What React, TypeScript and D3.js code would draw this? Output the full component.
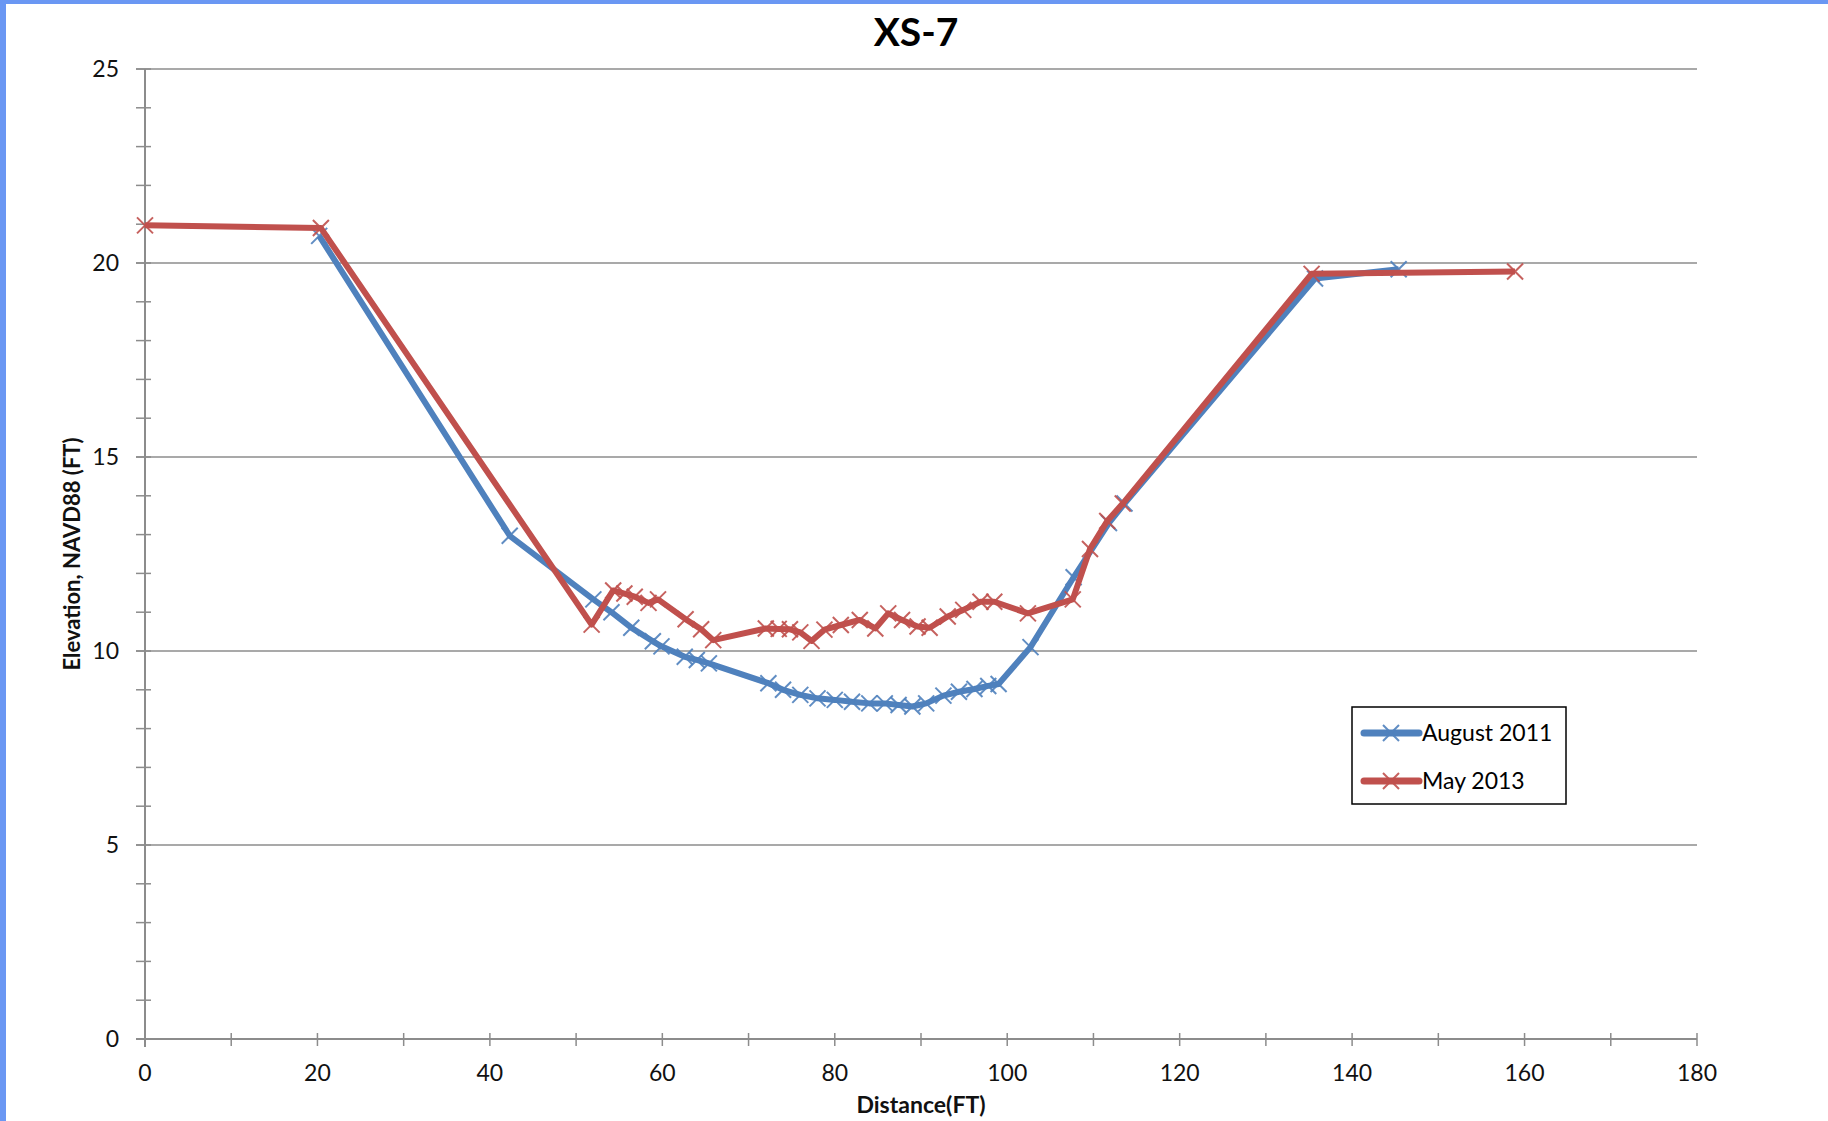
import React from "react";
import * as d3 from "d3";

// Cross-section XS-7 survey profiles
const aug2011Dist = [20.2, 42.3, 52.0, 54.1, 56.4, 58.9, 59.9, 62.6, 64.0, 65.4, 72.3, 74.0, 76.0, 78.0, 80.0, 82.0, 84.0, 85.8, 87.4, 89.0, 90.6, 92.6, 94.4, 96.2, 97.8, 99.0, 102.7, 107.7, 111.8, 113.6, 135.7, 145.4];
const aug2011Elev = [20.7, 12.97, 11.33, 11.0, 10.6, 10.25, 10.12, 9.85, 9.77, 9.68, 9.17, 9.0, 8.87, 8.78, 8.74, 8.69, 8.65, 8.65, 8.61, 8.57, 8.65, 8.85, 8.95, 9.02, 9.1, 9.15, 10.1, 11.9, 13.3, 13.8, 19.6, 19.84];

const may2013Dist = [0, 20.4, 51.8, 54.3, 55.6, 56.8, 58.4, 59.5, 62.7, 64.5, 65.9, 72.0, 73.5, 74.8, 76.0, 77.3, 78.8, 80.7, 82.9, 84.7, 86.2, 87.8, 89.6, 91.0, 93.1, 94.9, 96.9, 98.5, 102.4, 107.6, 109.6, 111.6, 113.4, 135.3, 158.9];
const may2013Elev = [20.97, 20.9, 10.68, 11.56, 11.48, 11.4, 11.24, 11.33, 10.82, 10.56, 10.28, 10.58, 10.57, 10.56, 10.48, 10.26, 10.55, 10.67, 10.8, 10.58, 10.97, 10.8, 10.63, 10.6, 10.89, 11.06, 11.27, 11.27, 10.97, 11.33, 12.63, 13.35, 13.8, 19.72, 19.78];

const seriesNames = ["August 2011", "May 2013"];
const seriesColors = ["#4F81BD", "#C0504D"];

const xTicks = [0, 20, 40, 60, 80, 100, 120, 140, 160, 180];
const xMinorTicks = d3.range(0, 181, 10);
const yTicks = [0, 5, 10, 15, 20, 25];
const yMinorTicks = d3.range(0, 26, 1);

const W = 1828;
const H = 1121;
const left = 145;
const right = 1697;
const top = 69;
const bottom = 1039;
const font = "Lato, 'Open Sans', sans-serif";

function Cross({ x, y, color, s = 8 }: { x: number; y: number; color: string; s?: number }) {
  return (
    <path
      d={`M${x - s},${y - s}L${x + s},${y + s}M${x - s},${y + s}L${x + s},${y - s}`}
      stroke={color}
      strokeWidth={2}
      fill="none"
      opacity={0.9}
    />
  );
}

export default function App() {
  const x = d3.scaleLinear().domain([0, 180]).range([left, right]);
  const y = d3.scaleLinear().domain([0, 25]).range([bottom, top]);

  const series = [
    { name: seriesNames[0], color: seriesColors[0], pts: aug2011Dist.map((d, i) => [d, aug2011Elev[i]] as [number, number]) },
    { name: seriesNames[1], color: seriesColors[1], pts: may2013Dist.map((d, i) => [d, may2013Elev[i]] as [number, number]) },
  ];

  const line = d3
    .line<[number, number]>()
    .x((d) => x(d[0]))
    .y((d) => y(d[1]));

  const legendX = 1352;
  const legendY = 707;

  return (
    <svg
      width={W}
      height={H}
      style={{ position: "absolute", left: 0, top: 0, display: "block", background: "#fff" }}
    >
      <rect x={0} y={0} width={W} height={H} fill="#fff" />
      {/* frame accents */}
      <rect x={0} y={0} width={W} height={4} fill="#6a97f3" />
      <rect x={0} y={0} width={6} height={H} fill="#6a97f3" />

      {/* title */}
      <text x={916} y={46} textAnchor="middle" fontFamily={font} fontWeight={700} fontSize={39} fill="#000">
        XS-7
      </text>

      {/* horizontal gridlines */}
      {yTicks.filter((t) => t > 0).map((t) => (
        <line key={"g" + t} x1={left - 9} x2={right} y1={y(t)} y2={y(t)} stroke="#8c8c8c" strokeWidth={1.5} />
      ))}

      {/* y minor ticks */}
      {yMinorTicks.map((t) => (
        <line key={"ym" + t} x1={left - 9} x2={left + 6} y1={y(t)} y2={y(t)} stroke="#8c8c8c" strokeWidth={1.5} />
      ))}

      {/* axes */}
      <line x1={left} x2={left} y1={top} y2={bottom + 8} stroke="#8c8c8c" strokeWidth={2} />
      <line x1={left - 9} x2={right} y1={bottom} y2={bottom} stroke="#8c8c8c" strokeWidth={2} />
      {xMinorTicks.map((t) => (
        <line key={"xm" + t} x1={x(t)} x2={x(t)} y1={bottom - 6} y2={bottom + 7} stroke="#8c8c8c" strokeWidth={1.5} />
      ))}

      {/* tick labels */}
      {yTicks.map((t) => (
        <text key={"yl" + t} x={119} y={y(t)} dy="0.35em" textAnchor="end" fontFamily={font} fontSize={23} fill="#111">
          {t}
        </text>
      ))}
      {xTicks.map((t) => (
        <text key={"xl" + t} x={x(t)} y={1073} dy="0.35em" textAnchor="middle" fontFamily={font} fontSize={23} fill="#111">
          {t}
        </text>
      ))}

      {/* axis titles */}
      <text
        transform={`translate(80,${(top + bottom) / 2}) rotate(-90)`}
        textAnchor="middle"
        fontFamily={font}
        fontWeight={700}
        fontSize={22}
        fill="#111"
      >
        Elevation, NAVD88 (FT)
      </text>
      <text x={921} y={1113} textAnchor="middle" fontFamily={font} fontWeight={700} fontSize={23} fill="#111">
        Distance(FT)
      </text>

      {/* series */}
      {series.map((s) => (
        <g key={s.name}>
          <path d={line(s.pts) || ""} fill="none" stroke={s.color} strokeWidth={6} strokeLinejoin="round" />
          {s.pts.map((p, i) => (
            <Cross key={i} x={x(p[0])} y={y(p[1])} color={s.color} />
          ))}
        </g>
      ))}

      {/* legend */}
      <rect x={legendX} y={legendY} width={214} height={97} fill="#fff" stroke="#000" strokeWidth={1.5} />
      {series.map((s, i) => {
        const ly = 733 + i * 48;
        return (
          <g key={"lg" + s.name}>
            <line x1={1364} x2={1419} y1={ly} y2={ly} stroke={s.color} strokeWidth={7} strokeLinecap="round" />
            <Cross x={1391} y={ly} color={s.color} />
            <text x={1422} y={ly} dy="0.35em" fontFamily={font} fontSize={23} fill="#000">
              {s.name}
            </text>
          </g>
        );
      })}
    </svg>
  );
}
